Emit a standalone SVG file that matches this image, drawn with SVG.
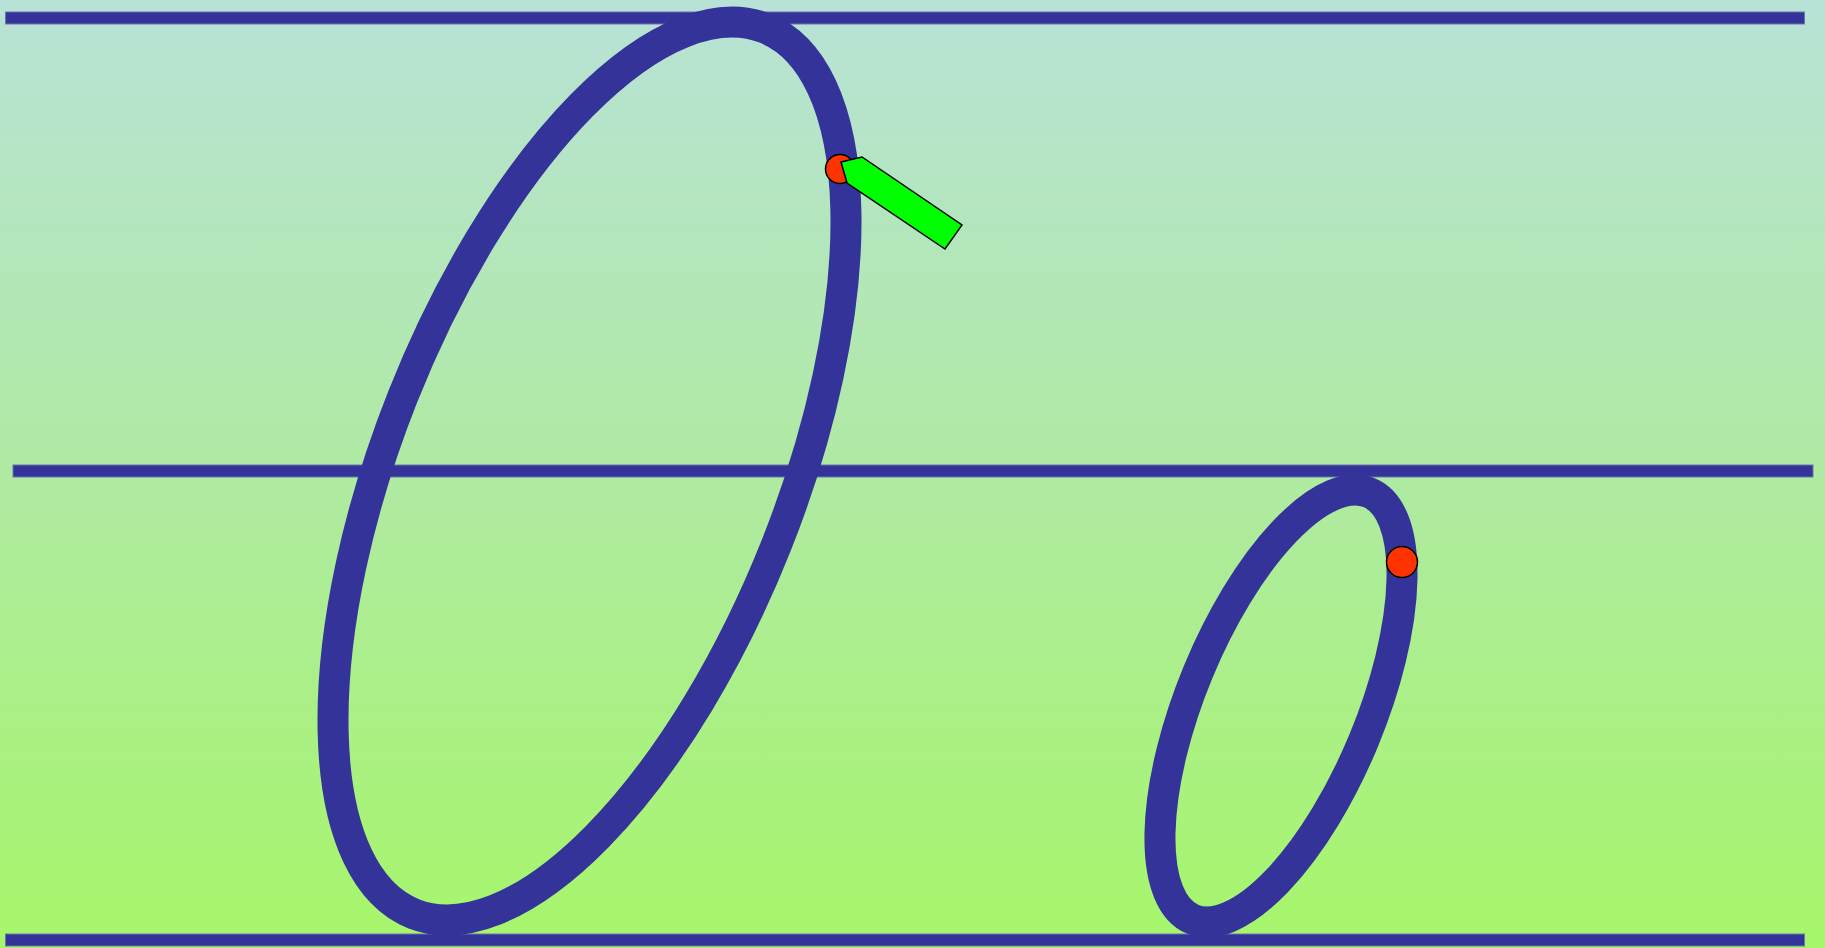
<svg xmlns="http://www.w3.org/2000/svg" width="1825" height="948" viewBox="0 0 1825 948">
  <defs>
    <linearGradient id="bg" x1="0" y1="0" x2="0" y2="1">
      <stop offset="0" stop-color="#b8e2d6"/>
      <stop offset="0.5" stop-color="#afeaa2"/>
      <stop offset="1" stop-color="#a6f66a"/>
    </linearGradient>
  </defs>
  <style>
    .rule { fill: #333399; stroke: #6f73b0; stroke-width: 1; }
    .loop { fill: none; stroke: #333399; stroke-width: 31; }
    .dot { fill: #ff3300; stroke: #000; stroke-width: 1.5; }
    .pencil { fill: #00ff00; stroke: #000; stroke-width: 1.5; stroke-linejoin: miter; }
  </style>
  <rect x="0" y="0" width="1825" height="948" fill="url(#bg)"/>
  <g id="rules">
    <rect class="rule" x="5.5" y="12" width="1799" height="12"/>
    <rect class="rule" x="13" y="465" width="1800" height="12"/>
    <rect class="rule" x="5.5" y="934" width="1799" height="12"/>
  </g>
  <g id="big-loop">
    <ellipse class="loop" cx="589.5" cy="471" rx="201" ry="476.4" transform="rotate(21.65 589.5 471)"/>
  </g>
  <g id="small-loop">
    <ellipse class="loop" cx="1281" cy="706" rx="89.6" ry="230.8" transform="rotate(22.5 1281 706)"/>
  </g>
  <g id="dots">
    <circle class="dot" cx="840" cy="169" r="14.5"/>
    <circle class="dot" cx="1402" cy="562" r="15.5"/>
  </g>
  <g id="pencil">
    <polygon class="pencil" points="841,162 862,157 962,225 945,249 847,183"/>
  </g>
</svg>
